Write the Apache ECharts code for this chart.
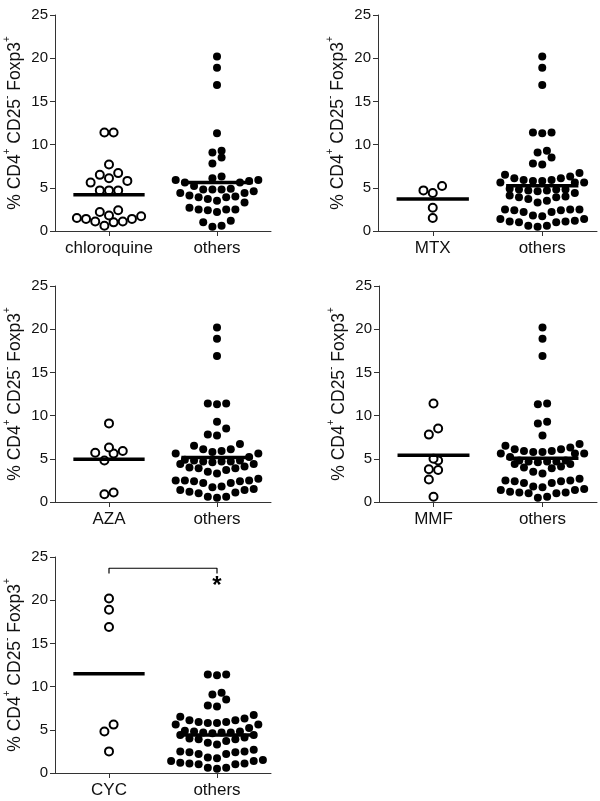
<!DOCTYPE html>
<html>
<head>
<meta charset="utf-8">
<script src="https://cdn.jsdelivr.net/npm/echarts@6/dist/echarts.min.js"></script>
<style>html,body{margin:0;padding:0;background:#fff}#c{width:600px;height:801px}</style>
</head>
<body>
<div id="c"></div>
<script>
// ---- data ----
const groupNames = ['chloroquine', 'MTX', 'AZA', 'MMF', 'CYC'];
const otherName = 'others';

const chloroquine = [11.4,11.4,7.7,6.7,6.5,6.1,5.8,5.6,4.7,4.7,4.7,2.4,2.2,1.8,1.7,1.5,1.4,1.4,1.1,1.1,1.0,0.6];
const others1 = [20.2,18.9,16.9,11.3,9.3,9.1,8.5,7.8,6.3,6.1,5.9,5.9,5.8,5.6,5.6,5.2,4.9,4.8,4.8,4.8,4.6,4.4,4.4,4.1,4.0,3.9,3.9,3.7,3.5,3.3,2.7,2.5,2.5,2.5,2.4,2.2,1.2,1.0,0.6,0.5];

const mtx = [5.2,4.7,4.4,2.7,1.5];
const others2 = [20.2,18.9,16.9,11.4,11.4,11.3,9.3,9.1,8.5,7.8,7.7,6.7,6.5,6.3,6.1,6.1,5.9,5.9,5.8,5.8,5.6,5.6,5.6,4.9,4.8,4.8,4.8,4.7,4.7,4.6,4.4,4.1,4.0,3.9,3.9,3.7,3.5,3.3,2.5,2.5,2.5,2.4,2.4,2.2,2.2,1.8,1.7,1.4,1.4,1.2,1.1,1.1,1.0,1.0,0.6,0.6,0.5];

const aza = [9.1,6.3,5.9,5.7,5.6,4.8,1.1,0.9];
const others3 = [20.2,18.9,16.9,11.4,11.4,11.3,9.3,8.5,7.8,7.7,6.7,6.5,6.1,6.1,5.9,5.8,5.6,5.6,5.2,4.9,4.8,4.8,4.7,4.7,4.7,4.6,4.4,4.4,4.1,4.0,3.9,3.9,3.7,3.5,3.3,2.7,2.5,2.5,2.5,2.4,2.4,2.2,2.2,1.8,1.7,1.5,1.4,1.4,1.2,1.1,1.0,0.6,0.6,0.5];

const mmf = [11.4,8.5,7.8,5.0,4.8,3.8,3.7,2.6,0.6];
const others4 = [20.2,18.9,16.9,11.4,11.3,9.3,9.1,7.7,6.7,6.5,6.3,6.1,6.1,5.9,5.9,5.8,5.8,5.6,5.6,5.6,5.2,4.8,4.8,4.7,4.7,4.7,4.6,4.4,4.4,4.1,4.0,3.9,3.5,3.3,2.7,2.5,2.5,2.4,2.4,2.2,2.2,1.8,1.7,1.5,1.4,1.4,1.2,1.1,1.1,1.0,1.0,0.6,0.5];

const cyc = [20.2,18.9,16.9,5.6,4.8,2.5];
const others5 = [11.4,11.4,11.3,9.3,9.1,8.5,7.8,7.7,6.7,6.5,6.3,6.1,6.1,5.9,5.9,5.8,5.8,5.6,5.6,5.2,4.9,4.8,4.8,4.7,4.7,4.7,4.6,4.4,4.4,4.1,4.0,3.9,3.9,3.7,3.5,3.3,2.7,2.5,2.5,2.4,2.4,2.2,2.2,1.8,1.7,1.5,1.4,1.4,1.2,1.1,1.1,1.0,1.0,0.6,0.6,0.5];

const groupMeans = [4.2, 3.7, 4.95, 5.4, 11.5];
const otherMeans = [5.6, 5.25, 5.15, 5.05, 4.4];

const yTicks = [0, 5, 10, 15, 20, 25];
const sigBracket = { from: 1, to: 2, y: 23.7, drop: 0.6, label: '*', labelY: 21.6 };

// ---- layout ----
const groups = [chloroquine, mtx, aza, mmf, cyc];
const others = [others1, others2, others3, others4, others5];
const grids = [
  {left: 55, top: 15, width: 216, height: 216},
  {left: 378, top: 15, width: 219, height: 216},
  {left: 55, top: 286, width: 216, height: 216},
  {left: 379, top: 286, width: 218, height: 216},
  {left: 55, top: 557, width: 216, height: 216}
];

// Prism-like row swarm: values binned into rows, spread symmetrically around centre
function swarm(values, center, spacing, binH) {
  const sorted = values.slice().sort((a, b) => a - b);
  const rows = [];
  let cur = [], start = null;
  sorted.forEach(v => {
    if (start === null || v - start >= binH) {
      if (cur.length) rows.push(cur);
      cur = [v]; start = v;
    } else cur.push(v);
  });
  if (cur.length) rows.push(cur);
  const pts = [];
  rows.forEach(row => {
    const n = row.length;
    row.forEach((v, i) => {
      let off;
      if (n % 2 === 1) {
        const k = Math.ceil(i / 2);
        off = i === 0 ? 0 : (i % 2 === 1 ? -k : k);
      } else {
        const k = Math.floor(i / 2) + 0.5;
        off = i % 2 === 0 ? -k : k;
      }
      pts.push([center + off * spacing, v]);
    });
  });
  return pts;
}

const SP = 0.085, BIN = 1.15, HALF = 0.33;
const axisColor = '#333';
const font = 'Arial, "Liberation Sans", Helvetica, sans-serif';

const option = {
  animation: false,
  backgroundColor: '#fff',
  grid: grids.map(g => Object.assign({containLabel: false}, g)),
  xAxis: grids.map((g, i) => ({
    gridIndex: i, type: 'value', min: 0.5, max: 2.5,
    axisLine: {show: true, onZero: false, lineStyle: {color: axisColor, width: 1}},
    axisTick: {show: true, length: 5, inside: false, customValues: [1, 2], lineStyle: {color: axisColor}},
    axisLabel: {
      show: true, customValues: [1, 2], margin: 9,
      fontSize: 17, color: '#111', fontFamily: font,
      formatter: v => (v === 1 ? groupNames[i] : otherName)
    },
    splitLine: {show: false}
  })),
  yAxis: grids.map((g, i) => ({
    gridIndex: i, type: 'value', min: 0, max: 25, interval: 5,
    axisLine: {show: true, lineStyle: {color: axisColor, width: 1}},
    axisTick: {show: true, length: 5, lineStyle: {color: axisColor}},
    axisLabel: {margin: 7, fontSize: 15, color: '#111', fontFamily: font,
      formatter: v => (yTicks.indexOf(v) >= 0 ? String(v) : '')},
    splitLine: {show: false},
    name: '{t|% CD4}{s|+}{t| CD25}{s|-}{t| Foxp3}{s|+}',
    nameLocation: 'middle', nameGap: 31, nameRotate: 90,
    nameTextStyle: {
      fontFamily: font, color: '#111',
      rich: {
        t: {fontSize: 17.5, fontFamily: font, color: '#111', lineHeight: 22, verticalAlign: 'bottom'},
        s: {fontSize: 10, fontFamily: font, color: '#111', lineHeight: 22, verticalAlign: 'top'}
      }
    }
  })),
  series: []
};

for (let i = 0; i < 5; i++) {
  option.series.push({
    type: 'scatter', xAxisIndex: i, yAxisIndex: i,
    data: swarm(groups[i], 1, SP, BIN),
    symbol: 'circle', symbolSize: 8,
    itemStyle: {color: '#fff', borderColor: '#000', borderWidth: 2, opacity: 1},
    z: 3
  });
  option.series.push({
    type: 'scatter', xAxisIndex: i, yAxisIndex: i,
    data: swarm(others[i], 2, SP, BIN),
    symbol: 'circle', symbolSize: 8,
    itemStyle: {color: '#000', opacity: 1},
    z: 3
  });
  [[1, groupMeans[i]], [2, otherMeans[i]]].forEach(([c, m]) => {
    option.series.push({
      type: 'line', xAxisIndex: i, yAxisIndex: i,
      data: [[c - HALF, m], [c + HALF, m]],
      symbol: 'none', lineStyle: {color: '#000', width: 3.5}, z: 5, silent: true
    });
  });
}

// significance bracket on CYC panel
option.series.push({
  type: 'line', xAxisIndex: 4, yAxisIndex: 4,
  data: [[sigBracket.from, sigBracket.y - sigBracket.drop], [sigBracket.from, sigBracket.y],
         [sigBracket.to, sigBracket.y], [sigBracket.to, sigBracket.y - sigBracket.drop]],
  symbol: 'none', lineStyle: {color: '#000', width: 1.2}, z: 4, silent: true
});
option.series.push({
  type: 'scatter', xAxisIndex: 4, yAxisIndex: 4,
  data: [[sigBracket.to, sigBracket.labelY]],
  symbolSize: 1,
  itemStyle: {color: '#fff', opacity: 1},
  label: {show: true, position: 'inside', formatter: sigBracket.label, fontSize: 24, fontWeight: 'bold', color: '#000', opacity: 1, fontFamily: font},
  z: 6, silent: true
});

const chart = echarts.init(document.getElementById('c'), null, {renderer: 'canvas'});
chart.setOption(option);
</script>
</body>
</html>
